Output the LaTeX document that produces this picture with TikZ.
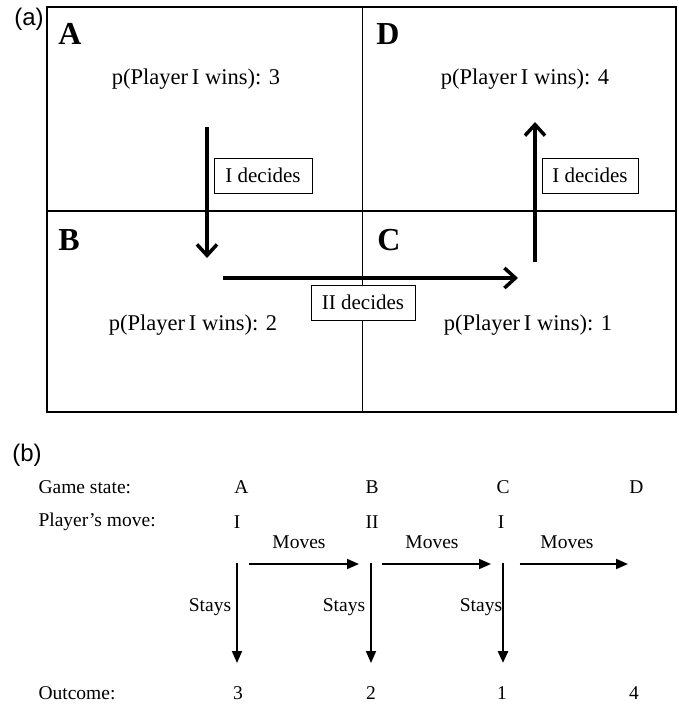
\documentclass[tikz,border=0pt]{standalone}
\usepackage{fontspec}
\setmainfont{Liberation Serif}
\newfontfamily\sansf{Liberation Sans}
\usetikzlibrary{arrows.meta}
\begin{document}
\begin{tikzpicture}[x=1pt,y=-1pt,
  panel/.style={font=\sansf\fontsize{24}{28}\selectfont},
  cell/.style={font=\bfseries\fontsize{32}{36}\selectfont},
  ptext/.style={font=\fontsize{22.5}{26}\selectfont},
  dbox/.style={draw,line width=1pt,font=\fontsize{21}{24}\selectfont,inner sep=0pt,minimum height=35pt,fill=white},
  bigarrow/.style={line width=3.5pt,-{Straight Barb[length=11pt,width=20pt]}},
  btext/.style={font=\fontsize{19.5}{23}\selectfont},
  barrow/.style={line width=1.8pt,-{Triangle[length=12pt,width=10pt]}},
  grid/.style={line width=1.3pt}
]
\useasboundingbox (0,0) rectangle (679,704);
% ---------- part (a)
\draw[grid] (47,7) rectangle (676,412);
\draw[grid] (362.5,7) -- (362.5,412);
\draw[grid] (47,211) -- (676,211);
\node[panel] (la) at (29,19) {(a)};
\node[cell] (cA) at (70,34) {A};
\node[cell] (cD) at (388,34) {D};
\node[cell] (cB) at (69,240) {B};
\node[cell] (cC) at (389,240) {C};
\node[ptext] (pA) at (196,79) {p(Player\,I wins): 3};
\node[ptext] (pD) at (525,79) {p(Player\,I wins): 4};
\node[ptext] (pB) at (193,325) {p(Player\,I wins): 2};
\node[ptext] (pC) at (528,325) {p(Player\,I wins): 1};
\coordinate (a1s) at (207,127);
\coordinate (a1e) at (207,258);
\coordinate (a2s) at (223,278);
\coordinate (a2e) at (518,278);
\coordinate (a3s) at (535,262);
\coordinate (a3e) at (535,122);
\draw[bigarrow] (a1s) -- (a1e);
\draw[bigarrow] (a2s) -- (a2e);
\draw[bigarrow] (a3s) -- (a3e);
\node[dbox,minimum width=98pt] (d1) at (263,175.5) {I decides};
\node[dbox,minimum width=96pt] (d3) at (590,175.5) {I decides};
\node[dbox,minimum width=104pt] (d2) at (363,302.5) {II decides};
% ---------- part (b)
\node[panel] (lb) at (27,455) {(b)};
\node[btext,anchor=west] (gs) at (35,487) {Game state:};
\node[btext,anchor=west] (pm) at (35,522) {Player's move:};
\node[btext,anchor=west] (oc) at (35,693) {Outcome:};
\node[btext] (sA) at (241.5,487) {A};
\node[btext] (sB) at (372,487) {B};
\node[btext] (sC) at (503,487) {C};
\node[btext] (sD) at (636.5,487) {D};
\node[btext] (mA) at (237,522) {I};
\node[btext] (mB) at (372,522) {II};
\node[btext] (mC) at (501,522) {I};
\node[btext] (o1) at (238,693) {3};
\node[btext] (o2) at (371,693) {2};
\node[btext] (o3) at (502,693) {1};
\node[btext] (o4) at (634,693) {4};
\node[btext] (mv1) at (299,542) {Moves};
\node[btext] (mv2) at (432,542) {Moves};
\node[btext] (mv3) at (567,542) {Moves};
\node[btext] (st1) at (210,607) {Stays};
\node[btext] (st2) at (344,607) {Stays};
\node[btext] (st3) at (481,607) {Stays};
\coordinate (h1s) at (249,564); \coordinate (h1e) at (359,564);
\coordinate (h2s) at (381.5,564); \coordinate (h2e) at (491,564);
\coordinate (h3s) at (519.5,564); \coordinate (h3e) at (628,564);
\coordinate (v1s) at (237,563); \coordinate (v1e) at (237,663);
\coordinate (v2s) at (371,563); \coordinate (v2e) at (371,663);
\coordinate (v3s) at (503,563); \coordinate (v3e) at (503,663);
\draw[barrow] (h1s) -- (h1e);
\draw[barrow] (h2s) -- (h2e);
\draw[barrow] (h3s) -- (h3e);
\draw[barrow] (v1s) -- (v1e);
\draw[barrow] (v2s) -- (v2e);
\draw[barrow,line width=2.8pt] (v3s) -- (v3e);
\end{tikzpicture}
\end{document}
